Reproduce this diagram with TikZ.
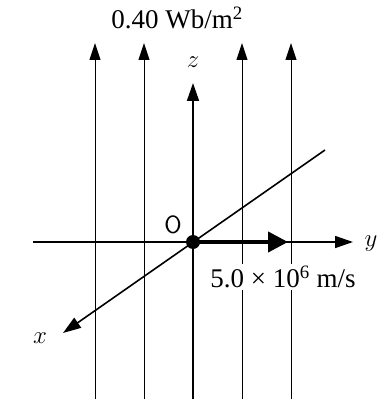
\documentclass[tikz,border=0pt]{standalone}
\usepackage{fontspec}
\setmainfont{Liberation Serif}
\usetikzlibrary{arrows.meta}
\begin{document}
\begin{tikzpicture}[x=1pt,y=-1pt,
  field/.style={line width=1pt,-{Triangle[length=17pt,width=11pt]}},
  axis/.style={line width=1.6pt,-{Triangle[length=18pt,width=12pt]}},
  vel/.style={line width=4pt,-{Triangle[length=20pt,width=20pt]}},
  lbl/.style={font=\fontsize{27}{29}\selectfont,inner sep=1pt},
  sym/.style={font=\fontsize{28}{30}\selectfont,inner sep=1pt}]
\useasboundingbox (0,0) rectangle (377,403);
% coordinates
\foreach \xx/\nm in {95/a,144/b,242/c,291/d}{
  \coordinate (\nm0) at (\xx,399);
  \coordinate (\nm1) at (\xx,43);
}
\coordinate (zb) at (193,399);
\coordinate (zt) at (193,83);
\coordinate (yl) at (33,242);
\coordinate (yr) at (353,242);
\coordinate (xs) at (325,150);
\coordinate (xe) at (63,333);
\coordinate (O) at (193,242);
\coordinate (vt) at (288,242);
% field lines
\foreach \nm in {a,b,c,d}{\draw[field] (\nm0) -- (\nm1);}
% label for velocity (white background cuts field lines)
\node[lbl,fill=white,inner sep=2pt] (vlab) at (283,277) {5.0 × 10\textsuperscript{6} m/s};
% axes
\draw[axis] (zb) -- (zt);
\draw[axis] (yl) -- (yr);
\draw[axis] (xs) -- (xe);
\draw[vel] (O) -- (vt);
\fill (O) circle (7);
% labels
\node[lbl] (B) at (177,18) {0.40 Wb/m\textsuperscript{2}};
\node[sym] (zl) at (193,62) {$z$};
\node[sym] (ylab) at (371,244) {$y$};
\node[sym] (xl) at (40,338) {$x$};
\node[font=\sffamily\fontsize{25}{27}\selectfont] (Ol) at (173,225) {O};
\end{tikzpicture}
\end{document}
